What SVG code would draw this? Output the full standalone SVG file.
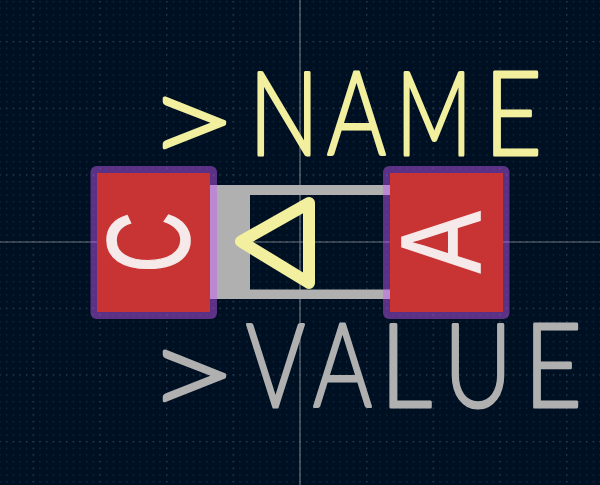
<svg xmlns="http://www.w3.org/2000/svg" width="600" height="485" viewBox="0 0 600 485">
<style>
.lbl{font-family:"Lato","Liberation Sans",sans-serif;font-weight:300;font-size:116px;stroke-linejoin:round;stroke-linecap:round}
.gt{font-size:122px}
.name{fill:#f2ef9e;stroke:#f2ef9e;stroke-width:3px}
.value{fill:#b0b0b0;stroke:#b0b0b0;stroke-width:3px}
.pin{font-family:"Liberation Sans",sans-serif;font-size:108px;fill:#f6e9e9;stroke:#f6e9e9;stroke-width:1.5px}
.mask{fill:#ca5cfd;fill-opacity:.45}
.pad{fill:#c83434}
.body{fill:#b0b0b0}
.cross{stroke:#8a8f98;stroke-width:1.2;opacity:.75}
</style>
<defs>
<pattern id="g" width="6.667" height="6.667" patternUnits="userSpaceOnUse" x="-.6" y="1"><rect width="1.2" height="1.2" fill="#1f2d41"/></pattern>
<pattern id="gc" width="66.667" height="6.667" patternUnits="userSpaceOnUse" x="32.7" y="1"><rect width="1.2" height="1.2" fill="#334052"/></pattern>
<pattern id="gr" width="6.667" height="66.667" patternUnits="userSpaceOnUse" x="-.6" y="41"><rect width="1.2" height="1.2" fill="#334052"/></pattern>
</defs>
<rect width="600" height="485" fill="#001023"/>
<rect width="600" height="485" fill="url(#g)"/>
<rect width="600" height="485" fill="url(#gc)"/>
<rect width="600" height="485" fill="url(#gr)"/>
<g id="crosshair"><path class="cross" d="M300 0V485M0 242H600"/></g>
<g id="body"><path class="body" fill-rule="evenodd" d="M210 185H390V299H210ZM250 195V289.500H390V195Z"/></g>
<g id="pad-C"><rect class="mask" x="90.500" y="166" width="126.500" height="153" rx="6"/><rect class="pad" x="97" y="173" width="113" height="139"/>
<text class="pin" transform="translate(189 272.700) rotate(-90) scale(.78 1.08)">C</text></g>
<g id="pad-A"><rect class="mask" x="383" y="166" width="126.500" height="153" rx="6"/><rect class="pad" x="390" y="173" width="113" height="139"/>
<text class="pin" transform="translate(480 273) rotate(-90) scale(.855 1.05)">A</text></g>
<g id="polarity"><path d="M241 241.500L309 203V283Z" fill="none" stroke="#f2ef9e" stroke-width="12" stroke-linejoin="round"/></g>
<g id="ref-name"><text class="lbl name" y="155" transform="scale(.75 1)"><tspan class="gt" x="194.670" dy="9.400" textLength="122.670" lengthAdjust="spacingAndGlyphs">&gt;</tspan><tspan x="332" dy="-9.400" textLength="93.330" lengthAdjust="spacingAndGlyphs">N</tspan><tspan x="436" textLength="78.670" lengthAdjust="spacingAndGlyphs">A</tspan><tspan x="528" textLength="101.330" lengthAdjust="spacingAndGlyphs">M</tspan><tspan x="645.330" textLength="77.330" lengthAdjust="spacingAndGlyphs">E</tspan></text></g>
<g id="ref-value"><text class="lbl value" y="407" transform="scale(.75 1)"><tspan class="gt" x="194.670" dy="10.400" textLength="122.670" lengthAdjust="spacingAndGlyphs">&gt;</tspan><tspan x="328" dy="-10.400" textLength="78.670" lengthAdjust="spacingAndGlyphs">V</tspan><tspan x="417.330" textLength="78.670" lengthAdjust="spacingAndGlyphs">A</tspan><tspan x="506.670" textLength="69.330" lengthAdjust="spacingAndGlyphs">L</tspan><tspan x="592" textLength="90.670" lengthAdjust="spacingAndGlyphs">U</tspan><tspan x="698.670" textLength="77.330" lengthAdjust="spacingAndGlyphs">E</tspan></text></g>
</svg>
